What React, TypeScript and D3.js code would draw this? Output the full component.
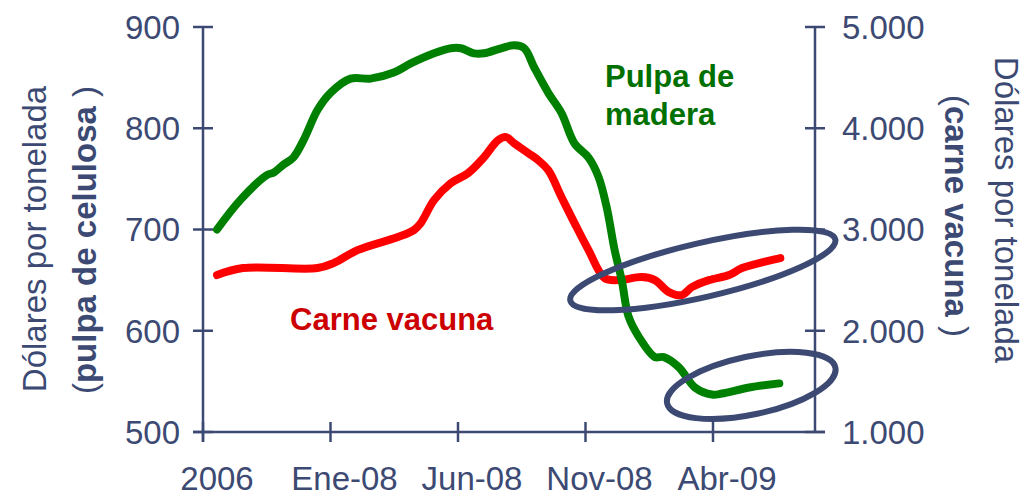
import React from 'react';
import * as d3 from 'd3';

// x in months from the first tick ("2006"), ticks every 5 months
const tickLabels = ['2006', 'Ene-08', 'Jun-08', 'Nov-08', 'Abr-09'];
const tickMonths = [0, 5, 10, 15, 20];

const leftTicks = [500, 600, 700, 800, 900];
const rightTicks = [1000, 2000, 3000, 4000, 5000];

// pulpa de celulosa (left axis, US$/t)
const pulpMonths = [0.55, 1.46, 2.52, 2.76, 3.15, 3.54, 3.94, 4.49, 5.0, 5.79, 6.57, 7.48, 8.15, 9.06, 9.72, 10.12, 10.63, 11.02, 11.69, 12.2, 12.6, 12.99, 13.54, 14.06, 14.57, 15.12, 15.51, 15.83, 16.14, 16.42, 16.69, 17.09, 17.72, 18.07, 18.66, 19.29, 19.96, 20.35, 21.42, 22.6];
const pulpValues = [700, 729, 754, 756, 764, 771, 788, 818, 835, 849, 849, 855, 864, 874, 879, 879, 874, 874, 879, 882, 879, 860, 835, 815, 785, 771, 752, 722, 680, 650, 614, 594, 574, 574, 564, 544, 537, 538, 544, 548];

// carne vacuna (right axis, US$/t)
const beefMonths = [0.55, 1.57, 4.49, 5.12, 6.06, 7.64, 8.27, 8.54, 9.06, 9.72, 10.39, 11.02, 11.57, 11.89, 12.2, 12.76, 13.15, 13.54, 14.06, 14.57, 15.12, 15.75, 16.3, 17.2, 17.72, 18.27, 18.78, 19.17, 19.84, 20.63, 21.14, 22.64];
const beefValues = [2550, 2619, 2619, 2668, 2796, 2925, 2994, 3063, 3290, 3458, 3556, 3714, 3882, 3912, 3852, 3754, 3684, 3586, 3319, 3063, 2796, 2520, 2500, 2530, 2500, 2382, 2352, 2431, 2500, 2550, 2619, 2717];

const axisColor = '#3c4a73';
const font = '"Liberation Sans", Arial, sans-serif';

const x = d3.scaleLinear().domain([0, 20]).range([203, 713]);
const yL = d3.scaleLinear().domain([500, 900]).range([432, 27]);
const yR = d3.scaleLinear().domain([1000, 5000]).range([432, 27]);

const fmtR = (v: number) => d3.format(',')(v).replace(/,/g, '.');

export default function App() {
  const pulp = pulpMonths.map((m, i) => [m, pulpValues[i]] as [number, number]);
  const beef = beefMonths.map((m, i) => [m, beefValues[i]] as [number, number]);

  const lineL = d3.line<[number, number]>().x(d => x(d[0])).y(d => yL(d[1])).curve(d3.curveCatmullRom);
  const lineR = d3.line<[number, number]>().x(d => x(d[0])).y(d => yR(d[1])).curve(d3.curveCatmullRom);

  const xLeft = x(0);
  const xRight = 815;
  const y0 = yL(500);

  return (
    <svg width={1035} height={499} style={{ position: 'absolute', left: 0, top: 0 }} fontFamily={font}>
      <rect width={1035} height={499} fill="#fff" />

      {/* axes */}
      <g stroke={axisColor} strokeWidth={2.5}>
        <line x1={xLeft} x2={xLeft} y1={yL(900)} y2={y0 + 10} />
        <line x1={xRight} x2={xRight} y1={yR(5000)} y2={y0} />
        <line x1={xLeft - 10} x2={xRight + 10} y1={y0} y2={y0} />
        {leftTicks.map(t => (
          <line key={'l' + t} x1={xLeft - 10} x2={xLeft + 10} y1={yL(t)} y2={yL(t)} />
        ))}
        {rightTicks.map(t => (
          <line key={'r' + t} x1={xRight - 10} x2={xRight + 10} y1={yR(t)} y2={yR(t)} />
        ))}
        {tickMonths.map(m => (
          <line key={'x' + m} x1={x(m)} x2={x(m)} y1={y0 - 10} y2={y0 + 10} />
        ))}
      </g>

      {/* tick labels */}
      <g fill={axisColor} fontSize={33}>
        {leftTicks.map(t => (
          <text key={'lt' + t} x={180} y={yL(t)} dy="0.36em" textAnchor="end">{t}</text>
        ))}
        {rightTicks.map(t => (
          <text key={'rt' + t} x={842} y={yR(t)} dy="0.36em">{fmtR(t)}</text>
        ))}
        {tickLabels.map((l, i) => (
          <text key={'xt' + l} x={x(tickMonths[i]) + 14} y={490} textAnchor="middle">{l}</text>
        ))}
      </g>

      {/* axis titles */}
      <g fill={axisColor} fontSize={33}>
        <text transform="translate(46,239) rotate(-90)" textAnchor="middle">Dólares por tonelada</text>
        <text transform="translate(96,240) rotate(-90)" textAnchor="middle">
          (<tspan fontWeight="bold">pulpa de celulosa</tspan> )
        </text>
        <text transform="translate(995,210) rotate(90)" textAnchor="middle">Dólares por tonelada</text>
        <text transform="translate(945,216) rotate(90)" textAnchor="middle">
          (<tspan fontWeight="bold">carne vacuna</tspan> )
        </text>
      </g>

      {/* lines */}
      <path d={lineR(beef) ?? ''} fill="none" stroke="#ff0000" strokeWidth={8} strokeLinejoin="round" strokeLinecap="round" />
      <path d={lineL(pulp) ?? ''} fill="none" stroke="#008000" strokeWidth={8} strokeLinejoin="round" strokeLinecap="round" />

      {/* annotation ellipses */}
      <g fill="none" stroke={axisColor} strokeWidth={6}>
        <ellipse cx={0} cy={0} rx={136} ry={27} transform={`translate(${x(19.6)},${yR(2600)}) rotate(-13)`} />
        <ellipse cx={0} cy={0} rx={86} ry={29} transform={`translate(${x(21.5)},${yL(546)}) rotate(-12)`} />
      </g>

      {/* series labels */}
      <g fontSize={31} fontWeight="bold">
        <text x={605} y={87} fill="#007000">Pulpa de</text>
        <text x={605} y={125} fill="#007000">madera</text>
        <text x={290} y={330} fill="#cc0000">Carne vacuna</text>
      </g>
    </svg>
  );
}
